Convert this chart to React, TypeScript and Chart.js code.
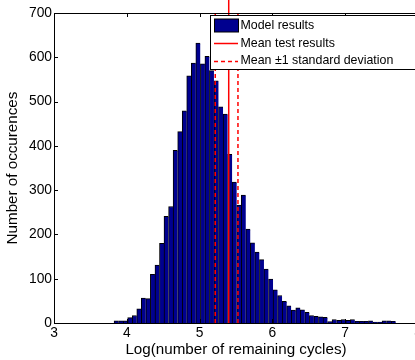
import React, { useEffect, useRef } from 'react';
import { Chart, registerables } from 'chart.js';

Chart.register(...registerables);

// ---- data ----
const binCenters = [
  3.856, 3.918, 3.981, 4.043, 4.106, 4.168, 4.230, 4.293, 4.355, 4.418,
  4.480, 4.542, 4.605, 4.667, 4.730, 4.792, 4.854, 4.917, 4.979, 5.042,
  5.104, 5.166, 5.229, 5.291, 5.354, 5.416, 5.478, 5.541, 5.603, 5.666,
  5.728, 5.790, 5.853, 5.915, 5.978, 6.040, 6.102, 6.165, 6.227, 6.290,
  6.352, 6.414, 6.477, 6.539, 6.602, 6.664, 6.726, 6.789, 6.851, 6.914,
  6.976, 7.038, 7.101, 7.163, 7.226, 7.288, 7.350, 7.413, 7.475, 7.538,
  7.600, 7.662,
];
const counts = [
  5, 5, 5, 12, 17, 32, 56, 55, 110, 131,
  180, 241, 263, 390, 432, 479, 558, 587, 632, 585,
  602, 570, 547, 488, 472, 381, 318, 266, 289, 212,
  181, 160, 143, 122, 99, 75, 62, 49, 39, 29,
  34, 30, 24, 17, 15, 14, 13, 3, 8, 6,
  8, 6, 8, 4, 4, 4, 5, 2, 2, 5,
  5, 4,
];
const meanTest = 5.4;
const meanMinusStd = 5.215;
const meanPlusStd = 5.527;
const lineBottom = 0;
const lineTop = 730;
const dashTop = 700;

const xMin = 3;
const xMax = 8;
const yMin = 0;
const yMax = 700;
const xStep = 1;
const yStep = 100;

const seriesLabels = ['Model results', 'Mean test results', 'Mean \u00b11 standard deviation'];
const xTitle = 'Log(number of remaining cycles)';
const yTitle = 'Number of occurences';

const FONT = '"Liberation Sans", Arial, Helvetica, sans-serif';
const BAR_COLOR = '#00008f';
const RED = '#ff0000';

const matlabPlugin = {
  id: 'matlabDecor',
  afterDraw(chart: any) {
    const { ctx, chartArea, scales } = chart;
    const { left, right, top, bottom } = chartArea;
    ctx.save();
    ctx.strokeStyle = '#000';
    ctx.lineWidth = 1;
    ctx.beginPath();
    ctx.moveTo(left, Math.round(top) + 0.5);
    ctx.lineTo(right, Math.round(top) + 0.5);
    ctx.stroke();
    const tl = 4;
    ctx.beginPath();
    scales.y.ticks.forEach((t: any) => {
      const py = Math.round(scales.y.getPixelForValue(t.value)) + 0.5;
      ctx.moveTo(left, py);
      ctx.lineTo(left + tl, py);
    });
    scales.x.ticks.forEach((t: any) => {
      const px = Math.round(scales.x.getPixelForValue(t.value)) + 0.5;
      ctx.moveTo(px, bottom);
      ctx.lineTo(px, bottom - tl);
      ctx.moveTo(px, top);
      ctx.lineTo(px, top + tl);
    });
    ctx.stroke();

    const bx = 210.5, by = 15.5, bw = 220, bh = 54;
    ctx.fillStyle = '#fff';
    ctx.fillRect(bx, by, bw, bh);
    ctx.strokeStyle = '#000';
    ctx.lineWidth = 1;
    ctx.strokeRect(bx, by, bw, bh);

    const items = chart.data.datasets.filter((d: any) => d.label);
    const rows = [25.5, 43, 60.5];
    const sx0 = 214, sx1 = 238, tx = 240.5;
    ctx.font = `12.4px ${FONT}`;
    ctx.textBaseline = 'middle';
    ctx.textAlign = 'left';
    items.forEach((d: any, i: number) => {
      const cy = rows[i];
      if (d.type === 'line') {
        ctx.save();
        ctx.strokeStyle = d.borderColor;
        ctx.lineWidth = d.borderWidth;
        ctx.setLineDash(d.borderDash || []);
        ctx.beginPath();
        ctx.moveTo(sx0, Math.round(cy) + 0.5);
        ctx.lineTo(sx1, Math.round(cy) + 0.5);
        ctx.stroke();
        ctx.restore();
      } else {
        ctx.fillStyle = d.backgroundColor;
        ctx.fillRect(sx0 + 0.5, cy - 6.5, sx1 - sx0, 13);
        ctx.strokeStyle = '#000';
        ctx.strokeRect(sx0 + 0.5, cy - 6.5, sx1 - sx0, 13);
      }
      ctx.fillStyle = '#000';
      ctx.fillText(d.label, tx, cy + 0.5);
    });
    ctx.restore();
  },
};

export default function App() {
  const canvasRef = useRef<HTMLCanvasElement | null>(null);

  useEffect(() => {
    document.body.style.overflow = 'hidden';
    const canvas = canvasRef.current;
    if (!canvas) return;
    Chart.defaults.color = '#000';
    Chart.defaults.font.family = FONT;

    const barData = binCenters.map((x, i) => ({ x, y: counts[i] }));
    const vline = (x: number, y1: number) => [
      { x, y: lineBottom },
      { x, y: y1 },
    ];

    const chart = new Chart(canvas, {
      type: 'bar',
      data: {
        datasets: [
          {
            type: 'bar',
            label: seriesLabels[0],
            data: barData,
            backgroundColor: BAR_COLOR,
            borderColor: '#000',
            borderWidth: { top: 1, left: 1, right: 0, bottom: 0 },
            borderSkipped: false,
            barPercentage: 1,
            categoryPercentage: 1,
            order: 2,
          },
          {
            type: 'line',
            label: seriesLabels[1],
            data: vline(meanTest, lineTop),
            borderColor: RED,
            borderWidth: 1.5,
            pointRadius: 0,
            clip: false,
            order: 1,
          },
          {
            type: 'line',
            label: seriesLabels[2],
            data: vline(meanMinusStd, dashTop),
            borderColor: RED,
            borderWidth: 1.5,
            borderDash: [4, 3],
            pointRadius: 0,
            order: 1,
          },
          {
            type: 'line',
            label: '',
            data: vline(meanPlusStd, dashTop),
            borderColor: RED,
            borderWidth: 1.5,
            borderDash: [4, 3],
            pointRadius: 0,
            order: 1,
          },
        ] as any,
      },
      options: {
        animation: false,
        responsive: true,
        maintainAspectRatio: false,
        devicePixelRatio: 1,
        layout: { padding: { left: 0, top: 13, right: 22, bottom: 0 } },
        plugins: {
          legend: { display: false },
          tooltip: { enabled: false },
          title: { display: false },
        },
        scales: {
          x: {
            type: 'linear',
            min: xMin,
            max: xMax,
            offset: false,
            grid: { display: false, drawTicks: false, offset: false },
            border: { display: true, color: '#000', width: 1 },
            ticks: {
              stepSize: xStep,
              padding: 2,
              font: { family: FONT, size: 13.8 },
              color: '#000',
              maxRotation: 0,
            },
            title: {
              display: true,
              text: xTitle,
              font: { family: FONT, size: 15.2 },
              color: '#000',
              padding: { top: 0, bottom: 1 },
            },
            afterFit: (s: any) => {
              s.height = 37;
            },
          },
          y: {
            type: 'linear',
            min: yMin,
            max: yMax,
            grid: { display: false, drawTicks: false },
            border: { display: true, color: '#000', width: 1 },
            ticks: {
              stepSize: yStep,
              padding: 2,
              font: { family: FONT, size: 13.8 },
              color: '#000',
            },
            title: {
              display: true,
              text: yTitle,
              font: { family: FONT, size: 15.2 },
              color: '#000',
              padding: { top: 4, bottom: 0 },
            },
            afterFit: (s: any) => {
              s.width = 54;
            },
          },
        },
      } as any,
      plugins: [matlabPlugin],
    });

    return () => {
      chart.destroy();
    };
  }, []);

  return (
    <div style={{ position: 'fixed', left: 0, top: 0, width: 440, height: 360, background: '#fff' }}>
      <canvas ref={canvasRef} />
    </div>
  );
}
